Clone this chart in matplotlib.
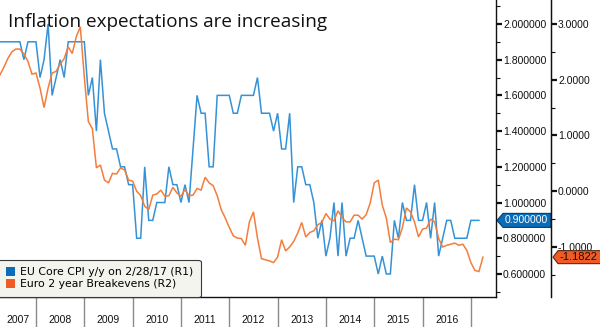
import numpy as np
import matplotlib
matplotlib.use("Agg")
import matplotlib.pyplot as plt
from matplotlib.patches import Polygon, Patch
from matplotlib.ticker import MultipleLocator, FixedLocator, NullFormatter, FormatStrFormatter
from matplotlib.transforms import IdentityTransform

plt.rcParams['font.family'] = ['Liberation Sans', 'DejaVu Sans']

# ---------------- data ----------------
title = "Inflation expectations are increasing"
series_names = ["EU Core CPI y/y on 2/28/17 (R1)", "Euro 2 year Breakevens (R2)"]
start_year = 2007
start_month = 3          # first point: end of March 2007, monthly thereafter

core_cpi = [
    # 2007 Mar-Dec
    1.9, 1.9, 1.9, 1.9, 1.9, 1.9, 1.8, 1.9, 1.9, 1.9,
    # 2008
    1.7, 1.8, 2.0, 1.6, 1.7, 1.8, 1.7, 1.9, 1.9, 1.9, 1.9, 1.9,
    # 2009
    1.6, 1.7, 1.4, 1.8, 1.5, 1.4, 1.3, 1.3, 1.2, 1.2, 1.1, 1.1,
    # 2010
    0.8, 0.8, 1.2, 0.9, 0.9, 1.0, 1.0, 1.0, 1.2, 1.1, 1.1, 1.0,
    # 2011
    1.1, 1.0, 1.3, 1.6, 1.5, 1.5, 1.2, 1.2, 1.6, 1.6, 1.6, 1.6,
    # 2012
    1.5, 1.5, 1.6, 1.6, 1.6, 1.6, 1.7, 1.5, 1.5, 1.5, 1.4, 1.5,
    # 2013
    1.3, 1.3, 1.5, 1.0, 1.2, 1.2, 1.1, 1.1, 1.0, 0.8, 0.9, 0.7,
    # 2014
    0.8, 1.0, 0.7, 1.0, 0.7, 0.8, 0.8, 0.9, 0.8, 0.7, 0.7, 0.7,
    # 2015
    0.6, 0.7, 0.6, 0.6, 0.9, 0.8, 1.0, 0.9, 0.9, 1.1, 0.9, 0.9,
    # 2016
    1.0, 0.8, 1.0, 0.7, 0.8, 0.9, 0.9, 0.8, 0.8, 0.8, 0.8, 0.9,
    # 2017 Jan-Feb
    0.9, 0.9,
]

breakevens = [
    # 2007 Mar-Dec
    2.08, 2.22, 2.38, 2.50, 2.55, 2.55, 2.46, 2.33, 2.10, 2.12,
    # 2008
    1.85, 1.50, 1.85, 2.12, 2.15, 2.28, 2.38, 2.59, 2.47, 2.77, 2.95, 2.05,
    # 2009
    1.25, 1.12, 0.42, 0.47, 0.20, 0.15, 0.32, 0.31, 0.42, 0.38, 0.20, 0.18,
    # 2010
    0.00, -0.08, -0.27, -0.33, -0.07, -0.05, 0.02, -0.09, -0.08, 0.07, -0.03, -0.09,
    # 2011
    0.03, -0.08, -0.07, 0.05, 0.02, 0.25, 0.15, 0.10, -0.08, -0.33, -0.48, -0.65,
    # 2012
    -0.80, -0.84, -0.85, -0.97, -0.55, -0.37, -0.84, -1.21, -1.23, -1.25, -1.28, -1.18,
    # 2013
    -0.87, -1.07, -1.00, -0.90, -0.75, -0.56, -0.82, -0.74, -0.71, -0.60, -0.56, -0.40,
    # 2014
    -0.50, -0.53, -0.35, -0.47, -0.55, -0.55, -0.43, -0.43, -0.50, -0.42, -0.21, 0.15,
    # 2015
    0.20, -0.25, -0.48, -0.92, -0.86, -0.87, -0.65, -0.30, -0.37, -0.55, -0.82, -0.68,
    # 2016
    -0.66, -0.50, -0.55, -0.85, -1.00, -0.97, -0.95, -0.93, -0.97, -0.95, -1.06, -1.28,
    # 2017 Jan-Mar
    -1.42, -1.44, -1.1822,
]

years = list(range(2007, 2017))
r1_last_label = "0.900000"
r2_last_label = "-1.1822"

# ---------------- style ----------------
line_blue = '#3592d6'
line_orange = '#f47d3c'
tag_blue = '#0b6cb8'
tag_orange = '#f05a24'
W, H = 600, 327

fig = plt.figure(figsize=(W / 100, H / 100), dpi=100)
ax = fig.add_axes([0, 30 / H, 496 / W, 297 / H])
ax2 = ax.twinx()

t_cpi = start_year + (start_month + np.arange(len(core_cpi))) / 12
t_be = start_year + (start_month + np.arange(len(breakevens))) / 12

ax.plot(t_cpi, core_cpi, color=line_blue, lw=1.1, solid_joinstyle='miter')
ax2.plot(t_be, breakevens, color=line_orange, lw=1.1, solid_joinstyle='miter')

xlim = (2007.255, 2017.52)
ax.set_xlim(*xlim)
ax.set_ylim(0.471, 2.134)
ax2.set_ylim(-1.897, 3.43)

# spines
for a in (ax, ax2):
    a.spines['left'].set_visible(False)
    a.spines['top'].set_visible(False)
    a.spines['right'].set_visible(False)
ax2.spines['bottom'].set_visible(False)
ax.spines['bottom'].set_color('#111111')
ax.spines['bottom'].set_linewidth(1.0)

# R1 axis (ticks on the right of ax)
ax.yaxis.tick_right()
ax.yaxis.set_major_locator(MultipleLocator(0.2))
ax.yaxis.set_minor_locator(MultipleLocator(0.1))
ax.yaxis.set_major_formatter(FormatStrFormatter('%.6f'))
ax.tick_params(axis='y', which='major', direction='out', length=4, width=1.6,
               labelsize=7.5, pad=1, colors='#111111')
ax.tick_params(axis='y', which='minor', direction='out', length=3, width=0.8, colors='#111111')

# R2 axis
ax2.yaxis.set_major_locator(MultipleLocator(1.0))
ax2.yaxis.set_minor_locator(MultipleLocator(0.5))
ax2.yaxis.set_major_formatter(FormatStrFormatter('%.4f'))
ax2.tick_params(axis='y', which='major', direction='out', length=4, width=1.6,
                labelsize=7.5, pad=1, colors='#111111')
ax2.tick_params(axis='y', which='minor', direction='out', length=3, width=0.8, colors='#111111')
ax2.spines['right'].set_visible(True)
ax2.spines['right'].set_position(('axes', 551 / 496))
ax2.spines['right'].set_color('#111111')

# vertical axis lines extend the full plot height
fig.add_artist(plt.Line2D([496 / W, 496 / W], [30 / H, 1], transform=fig.transFigure,
                          color='#111111', lw=1.0))
fig.add_artist(plt.Line2D([551 / W, 551 / W], [30 / H, 1], transform=fig.transFigure,
                          color='#111111', lw=1.0))

# x axis: separators at year boundaries, labels centered in visible part
bounds = [y for y in range(2008, 2018)]
ax.xaxis.set_major_locator(FixedLocator(bounds))
ax.xaxis.set_major_formatter(NullFormatter())
centers = []
for y in years:
    lo, hi = max(y, xlim[0]), min(y + 1, xlim[1])
    centers.append((lo + hi) / 2)
ax.xaxis.set_minor_locator(FixedLocator(centers))
ax.set_xticklabels([str(y) for y in years], minor=True)
ax.tick_params(axis='x', which='major', direction='out', length=30 * 0.72, width=1.0,
               color='#8a8a8a')
ax.tick_params(axis='x', which='minor', length=0, pad=13, labelsize=7.5, labelcolor='#111111')

# title
fig.text(8 / W, (H - 27) / H, title, fontsize=13.6, ha='left', va='baseline',
         color='#111111', family=['Open Sans', 'DejaVu Sans'])

# legend
handles = [Patch(facecolor=tag_blue, edgecolor='none'), Patch(facecolor=tag_orange, edgecolor='none')]
leg = ax2.legend(handles, series_names, loc='lower left', bbox_to_anchor=(-0.004, 0.0),
                 borderaxespad=0, prop={'family': ['DejaVu Sans'], 'size': 7.8},
                 frameon=True, fancybox=True,
                 handlelength=0.85, handleheight=0.85, handletextpad=0.45,
                 labelspacing=0.2, borderpad=0.7, framealpha=1)
leg.get_frame().set_facecolor('#f3f4ee')
leg.get_frame().set_edgecolor('#3a3a3a')
leg.get_frame().set_linewidth(0.8)

# value tags
fig.canvas.draw()
yb = ax.transData.transform((t_cpi[-1], core_cpi[-1]))[1]
yo = ax2.transData.transform((t_be[-1], breakevens[-1]))[1]

hb = 7
pb = Polygon([(497, yb), (503, yb + hb), (551, yb + hb), (551, yb - hb), (503, yb - hb)],
             closed=True, facecolor=tag_blue, edgecolor='#0a3d66', lw=0.8,
             transform=IdentityTransform())
fig.add_artist(pb)
fig.text(505, yb, r1_last_label, transform=IdentityTransform(), fontsize=7.5,
         color='white', ha='left', va='center')

ho = 6.5
po = Polygon([(553, yo), (558, yo + ho), (601, yo + ho), (601, yo - ho), (558, yo - ho)],
             closed=True, facecolor=tag_orange, edgecolor='#5a2a10', lw=0.8,
             transform=IdentityTransform())
fig.add_artist(po)
fig.text(560, yo, r2_last_label, transform=IdentityTransform(), fontsize=8,
         color='#111111', ha='left', va='center')

fig.savefig('out.png', dpi=100)
